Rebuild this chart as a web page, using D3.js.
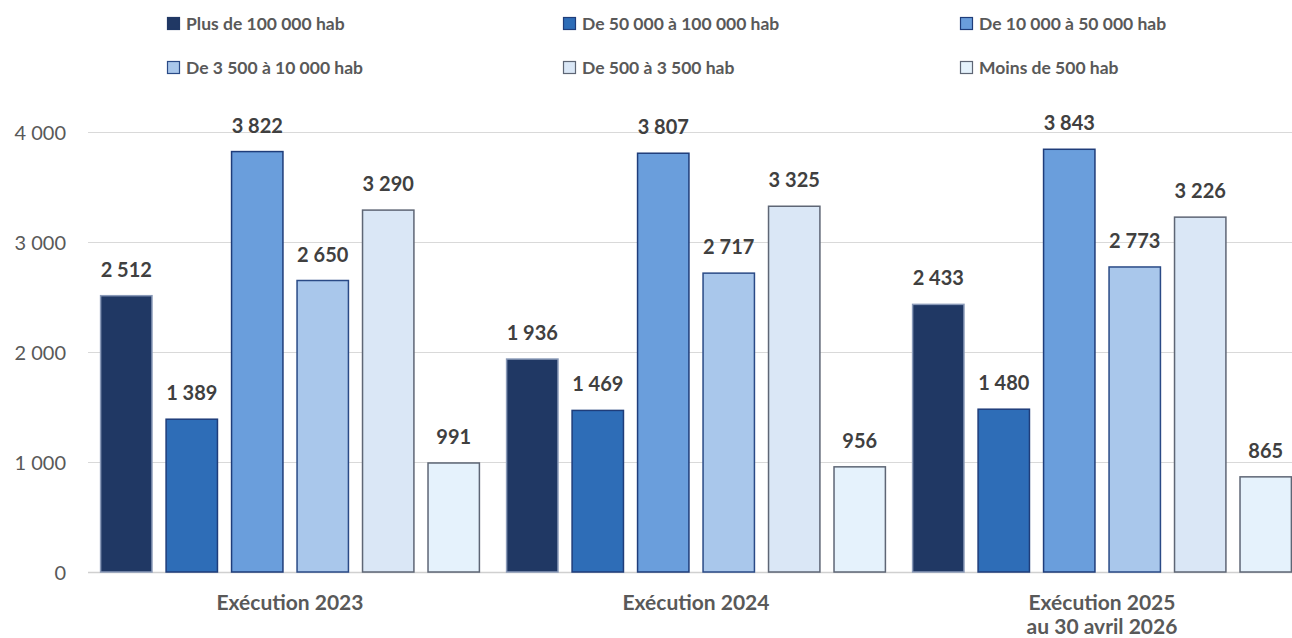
<!DOCTYPE html>
<html><head><meta charset="utf-8">
<script src="https://cdn.jsdelivr.net/npm/d3@7"></script>
<style>body{margin:0;background:#fff;} text{font-family:Lato,"Open Sans",sans-serif;}</style>
</head><body>
<svg id="c" width="1292" height="638"></svg>
<script>
const categories = [["Exécution 2023"],["Exécution 2024"],["Exécution 2025","au 30 avril 2026"]];
const seriesNames = ["Plus de 100 000 hab","De 50 000 à 100 000 hab","De 10 000 à 50 000 hab","De 3 500 à 10 000 hab","De 500 à 3 500 hab","Moins de 500 hab"];
const s1 = [2512,1936,2433];
const s2 = [1389,1469,1480];
const s3 = [3822,3807,3843];
const s4 = [2650,2717,2773];
const s5 = [3290,3325,3226];
const s6 = [991,956,865];
const seriesValues = [s1,s2,s3,s4,s5,s6];
const yTicks = [0,1000,2000,3000,4000];
const fills = ["#203864","#2E6DB7","#6A9EDC","#A9C7EB","#DAE7F6","#E5F2FC"];
const strokes = ["#8A9AB8","#1F3D7A","#1F3D7A","#2A4A86","#5E6675","#5E6675"];

const svg = d3.select("#c");
const fmt = v => d3.format(",")(v).replace(/,/g," ");
const y = d3.scaleLinear().domain([0,4000]).range([572,132]);
const x0 = d3.scaleBand().domain(d3.range(3)).range([87,1305]).padding(0);
const x1 = d3.scaleBand().domain(d3.range(6)).range([0,x0.bandwidth()]).padding(0.2);

const yAxis = d3.axisLeft(y).tickValues(yTicks).tickSize(0).tickFormat(fmt);
const ga = svg.append("g").attr("transform","translate(66,0)").call(yAxis);
ga.select(".domain").remove();
ga.selectAll("text").attr("fill","#595959").style("font-size","20px").style("font-family","Lato,sans-serif").attr("x",0).attr("dy","0.35em");
svg.append("g").selectAll("line").data(yTicks).join("line")
  .attr("x1",88).attr("x2",1292).attr("y1",d=>y(d)+0.5).attr("y2",d=>y(d)+0.5)
  .attr("stroke",d=>d===0?"#D0D0D0":"#D9D9D9").attr("stroke-width",d=>d===0?1.5:1);

const groups = svg.append("g").selectAll("g").data(categories).join("g")
  .attr("transform",(d,i)=>`translate(${x0(i)},0)`);
groups.each(function(c,ci){
  const g = d3.select(this);
  seriesValues.forEach((vals,si)=>{
    const v = vals[ci];
    g.append("rect").attr("x",x1(si)+0.5).attr("width",x1.bandwidth()-1)
      .attr("y",y(v)).attr("height",y(0)-y(v))
      .attr("fill",fills[si]).attr("stroke",strokes[si]).attr("stroke-width",1.5);
    g.append("text").attr("x",x1(si)+x1.bandwidth()/2).attr("y",y(v)-19)
      .attr("text-anchor","middle").attr("fill","#404040")
      .style("font-size","20px").style("font-weight","bold").text(fmt(v));
  });
  g.append("text").attr("text-anchor","middle").attr("fill","#595959")
    .style("font-size","21px").style("font-weight","bold")
    .selectAll("tspan").data(c).join("tspan")
    .attr("x",x0.bandwidth()/2).attr("y",(d,i)=>610+i*24).text(d=>d);
});

const legX = [167,563,960], legY = [24,68];
const leg = svg.append("g").selectAll("g").data(seriesNames).join("g")
  .attr("transform",(d,i)=>`translate(${legX[i%3]},${legY[Math.floor(i/3)]})`);
leg.append("rect").attr("x",0.5).attr("y",-6.5).attr("width",12).attr("height",12)
  .attr("fill",(d,i)=>fills[i]).attr("stroke",(d,i)=>i===0?fills[0]:strokes[i]).attr("stroke-width",1.2);
leg.append("text").attr("x",19).attr("y",0).attr("dy","0.35em").attr("fill","#595959")
  .style("font-size","17.5px").style("font-weight","bold").text(d=>d);
</script>
</body></html>
